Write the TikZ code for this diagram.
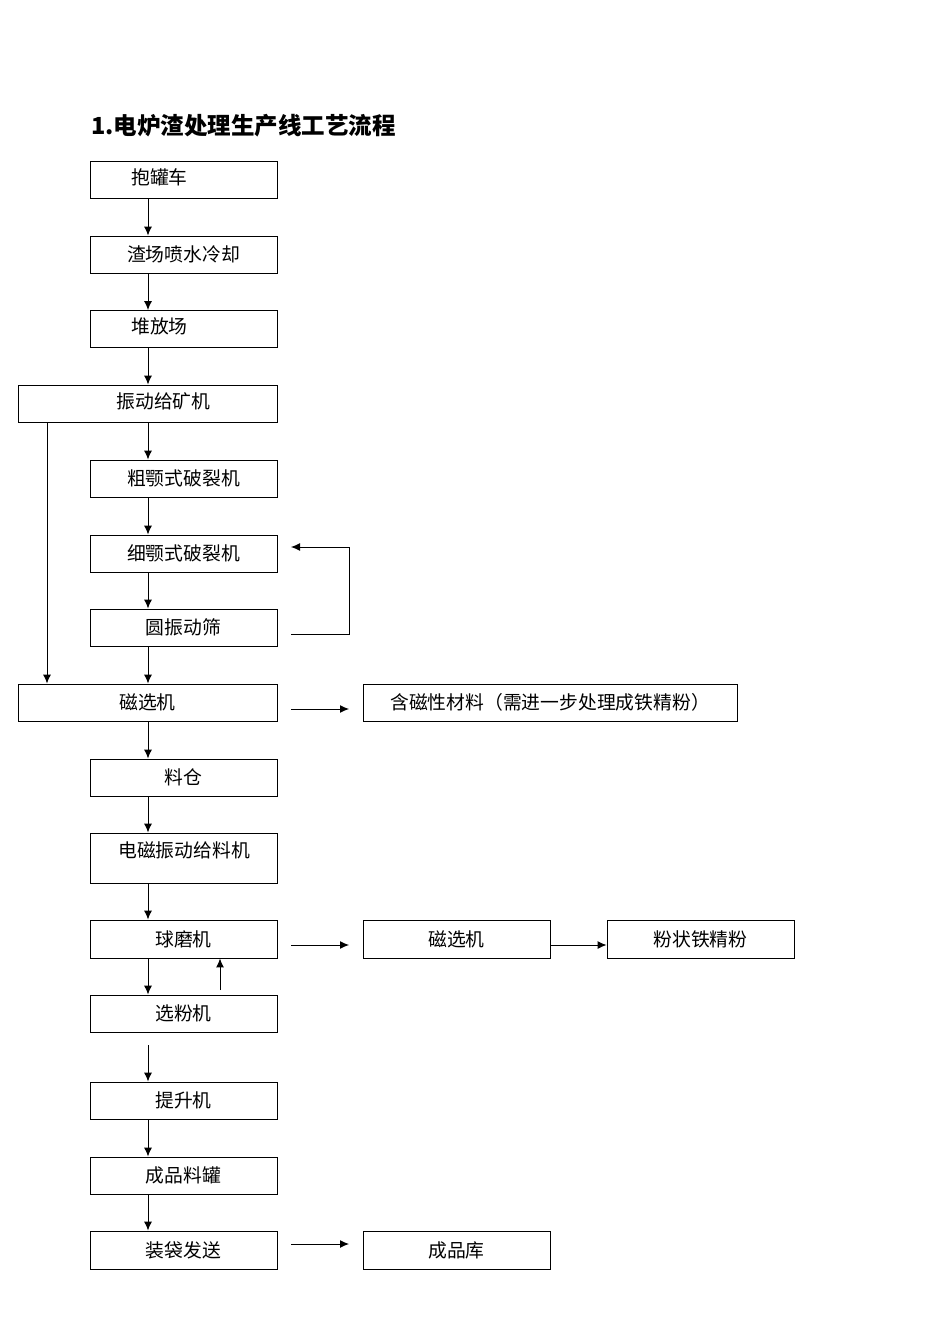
\documentclass[tikz,border=0pt]{standalone}
\usepackage{fontspec}
\setmainfont{Noto Sans CJK SC}
\usetikzlibrary{arrows.meta}
\tikzset{
  box/.style={draw, line width=0.9pt, inner sep=0pt, minimum height=37pt, font=\fontsize{18.8}{22}\selectfont},
  lbl/.style={inner sep=0pt, font=\fontsize{18.8}{22}\selectfont},
  arr/.style={line width=1pt, -{Latex[length=9pt,width=8pt]}},
  ln/.style={line width=1pt}
}
\begin{document}
\begin{tikzpicture}[x=1pt,y=-1pt]
\useasboundingbox (0,0) rectangle (950,1344);
\node[anchor=west, inner sep=0pt, font=\fontsize{23.5}{26}\selectfont\bfseries] (title) at (91,126) {1.电炉渣处理生产线工艺流程};
% main column
\node[box, minimum width=187pt] (b1) at (183.5,179.5) {};
\node[lbl] (t1) at (159.5,177) {抱罐车};
\node[box, minimum width=187pt] (b2) at (183.5,254.5) {渣场喷水冷却};
\node[box, minimum width=187pt] (b3) at (183.5,329) {};
\node[lbl] (t3) at (159.5,326) {堆放场};
\node[box, minimum width=259pt] (b4) at (147.5,403.5) {};
\node[lbl] (t4) at (163.5,401) {振动给矿机};
\node[box, minimum width=187pt] (b5) at (183.5,478.5) {粗颚式破裂机};
\node[box, minimum width=187pt] (b6) at (183.5,553.5) {细颚式破裂机};
\node[box, minimum width=187pt] (b7) at (183.5,627.5) {圆振动筛};
\node[box, minimum width=259pt] (b8) at (147.5,702.5) {磁选机};
\node[box, minimum width=187pt] (b9) at (183.5,777.5) {料仓};
\node[box, minimum width=187pt, minimum height=50pt] (b10) at (183.5,858) {};
\node[lbl] (t10) at (184,850) {电磁振动给料机};
\node[box, minimum width=187pt, minimum height=38pt] (b11) at (183.5,939) {球磨机};
\node[box, minimum width=187pt] (b12) at (183.5,1013.5) {选粉机};
\node[box, minimum width=187pt] (b13) at (183.5,1100.5) {提升机};
\node[box, minimum width=187pt] (b14) at (183.5,1175.5) {成品料罐};
\node[box, minimum width=187pt, minimum height=38pt] (b15) at (183.5,1250) {装袋发送};
% right side
\node[box, minimum width=374pt] (r1) at (550,702.5) {含磁性材料（需进一步处理成铁精粉）};
\node[box, minimum width=187pt, minimum height=38pt] (r2) at (456.5,939) {磁选机};
\node[box, minimum width=187pt, minimum height=38pt] (r3) at (700.5,939) {粉状铁精粉};
\node[box, minimum width=187pt, minimum height=38pt] (r4) at (456.5,1250) {成品库};
% coordinates
\coordinate (a12s) at (148,1045);
\coordinate (up) at (220,990);
\coordinate (fb1) at (291,634);
\coordinate (fb2) at (349,634);
\coordinate (fb3) at (349,547);
\coordinate (fb4) at (291,547);
\coordinate (h1a) at (291,709);
\coordinate (h1b) at (349,709);
\coordinate (h2a) at (291,945);
\coordinate (h2b) at (349,945);
\coordinate (h4a) at (291,1244);
\coordinate (h4b) at (349,1244);
% vertical arrows
\foreach \a/\b in {b1/b2,b2/b3,b3/b4,b4/b5,b5/b6,b6/b7,b7/b8,b8/b9,b9/b10,b10/b11,b11/b12,b13/b14,b14/b15}
  \draw[arr] (\a.south -| 148,0) -- (\b.north -| 148,0);
\draw[arr] (a12s) -- (b13.north -| a12s);
\draw[arr] (up) -- (b11.south -| up);
\draw[arr] (b4.south -| 47,0) -- (b8.north -| 47,0);
% feedback loop
\draw[ln] (fb1) -- (fb2) -- (fb3);
\draw[arr] (fb3) -- (fb4);
% horizontals
\draw[arr] (h1a) -- (h1b);
\draw[arr] (h2a) -- (h2b);
\draw[arr] (r2.east |- h2a) -- (r3.west |- h2a);
\draw[arr] (h4a) -- (h4b);
\end{tikzpicture}
\end{document}
